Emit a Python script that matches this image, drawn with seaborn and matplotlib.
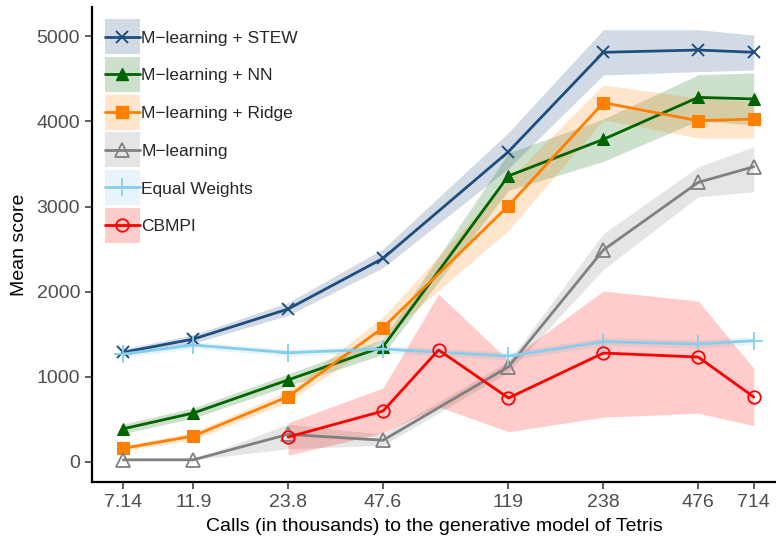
import matplotlib
matplotlib.use("Agg")
import matplotlib.pyplot as plt
import numpy as np
import pandas as pd
import seaborn as sns
from matplotlib.patches import Patch, Rectangle
from matplotlib.lines import Line2D
from matplotlib.legend_handler import HandlerPatch
from matplotlib.ticker import NullLocator

# Calls to the generative model (in thousands)
calls = [7.14, 11.9, 23.8, 47.6, 119, 238, 476, 714]
calls_cbmpi = [23.8, 47.6, 71.4, 119, 238, 476, 714]
tick_labels = ["7.14", "11.9", "23.8", "47.6", "119", "238", "476", "714"]

# Mean scores and their shaded intervals
stew = [1285, 1440, 1794, 2390, 3645, 4814, 4841, 4814]
stew_lo = [1245, 1390, 1720, 2280, 3450, 4547, 4586, 4606]
stew_hi = [1325, 1490, 1870, 2500, 3870, 5080, 5080, 5018]

nn = [385, 570, 960, 1350, 3360, 3790, 4284, 4265]
nn_lo = [330, 510, 890, 1260, 3190, 3530, 4010, 3960]
nn_hi = [440, 630, 1030, 1440, 3630, 4030, 4550, 4570]

ridge = [155, 300, 763, 1575, 3009, 4221, 4009, 4029]
ridge_lo = [125, 255, 700, 1450, 2720, 4020, 3806, 3806]
ridge_hi = [185, 345, 830, 1700, 3310, 4430, 4276, 4233]

mlearn = [20, 20, 320, 250, 1115, 2488, 3284, 3468]
mlearn_lo = [20, 20, 150, 190, 1050, 2260, 3115, 3174]
mlearn_hi = [20, 20, 440, 320, 1180, 2680, 3468, 3704]

equal = [1265, 1370, 1280, 1323, 1241, 1410, 1382, 1421]
equal_lo = [1225, 1330, 1240, 1280, 1195, 1360, 1335, 1375]
equal_hi = [1305, 1410, 1320, 1366, 1287, 1460, 1430, 1467]

cbmpi = [288, 594, 1312, 747, 1276, 1229, 759]
cbmpi_lo = [75, 335, 645, 350, 522, 568, 421]
cbmpi_hi = [457, 865, 1970, 1190, 2006, 1888, 1096]

sns.set_theme(style="ticks")
plt.rcParams["font.family"] = ["Liberation Sans", "DejaVu Sans"]

fig = plt.figure(figsize=(7.76, 5.38), dpi=100)
ax = fig.add_axes([92 / 776, 1 - 482 / 538, (776 - 92) / 776, (482 - 7) / 538])
ax.set_xscale("log")

series = [
    ("M\u2212learning + STEW", calls, stew, stew_lo, stew_hi, "#1f4e7e",
     dict(marker="x", markersize=9, markeredgewidth=1.4)),
    ("M\u2212learning + NN", calls, nn, nn_lo, nn_hi, "#006400",
     dict(marker="^", markersize=9)),
    ("M\u2212learning + Ridge", calls, ridge, ridge_lo, ridge_hi, "#ff7f00",
     dict(marker="s", markersize=8)),
    ("M\u2212learning", calls, mlearn, mlearn_lo, mlearn_hi, "#808080",
     dict(marker="^", markersize=10, markerfacecolor="none", markeredgewidth=1.3)),
    ("Equal Weights", calls, equal, equal_lo, equal_hi, "#87ceeb",
     dict(marker="+", markersize=13, markeredgewidth=1.3)),
    ("CBMPI", calls_cbmpi, cbmpi, cbmpi_lo, cbmpi_hi, "#ff0000",
     dict(marker="o", markersize=9, markerfacecolor="none", markeredgewidth=1.3)),
]

handles, labels = [], []
for name, xs, ys, lo, hi, color, mk in series:
    ax.fill_between(xs, lo, hi, color=color, alpha=0.2, lw=0)
    df = pd.DataFrame({"calls": xs, "score": ys})
    style = dict(mk)
    style.setdefault("markerfacecolor", color)
    style["markeredgecolor"] = color
    sns.lineplot(data=df, x="calls", y="score", ax=ax, color=color, lw=2,
                 estimator=None, sort=False, **style)
    handles.append((Patch(facecolor=color, alpha=0.2, edgecolor="none"),
                    Line2D([], [], color=color, lw=2, **style)))
    labels.append(name)

ax.set_xlim(5.68, 840)
ax.set_ylim(-241, 5347)
ax.set_xticks(calls)
ax.set_xticklabels(tick_labels)
ax.xaxis.set_minor_locator(NullLocator())
ax.set_yticks([0, 1000, 2000, 3000, 4000, 5000])

ax.set_xlabel("Calls (in thousands) to the generative model of Tetris",
              fontsize=14, color="black", labelpad=5)
ax.set_ylabel("Mean score", fontsize=14, color="black", labelpad=6)
ax.tick_params(axis="both", labelsize=14, labelcolor="#4d4d4d",
               color="#333333", length=5, width=1.1)

for side in ("top", "right"):
    ax.spines[side].set_visible(False)
for side in ("left", "bottom"):
    ax.spines[side].set_color("black")
    ax.spines[side].set_linewidth(1.6)


def key_box(legend, orig_handle, xdescent, ydescent, width, height, fontsize):
    # square key background centred on the key line
    side = 25.2
    cy = (height - ydescent) / 2
    return Rectangle((-xdescent, cy - side / 2), width, side)


leg = ax.legend(handles, labels, loc="upper left",
                bbox_to_anchor=(105 / 776, 1 - 30.5 / 538),
                bbox_transform=fig.transFigure, frameon=False,
                borderpad=0, borderaxespad=0, fontsize=12.5,
                handlelength=2.0, handleheight=0.7, labelspacing=1.3,
                handletextpad=0.1,
                handler_map={Patch: HandlerPatch(patch_func=key_box)})

fig.savefig("out.png", dpi=100)
